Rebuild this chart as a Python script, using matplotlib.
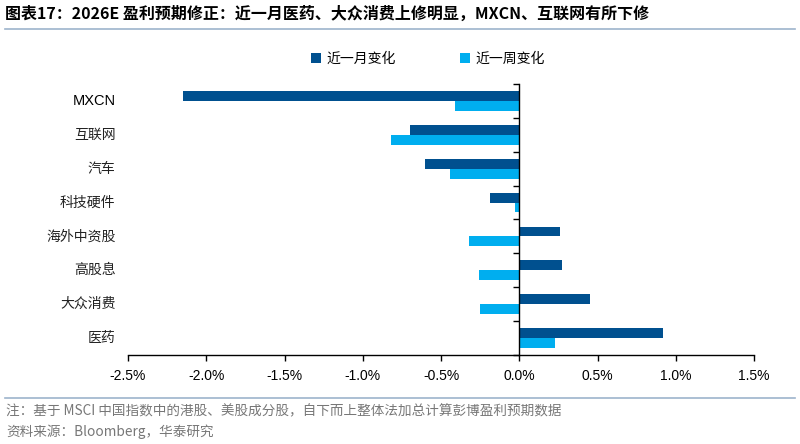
import matplotlib
matplotlib.use("Agg")
import matplotlib.pyplot as plt
import matplotlib.transforms as mtransforms
from matplotlib.patches import Patch
from matplotlib.ticker import FuncFormatter, FixedLocator
import numpy as np

plt.rcParams['font.family'] = ['Noto Sans CJK SC', 'DejaVu Sans']

categories = ["MXCN", "互联网", "汽车", "科技硬件", "海外中资股", "高股息", "大众消费", "医药"]
month_change = [-2.15, -0.70, -0.60, -0.19, 0.26, 0.27, 0.45, 0.92]
week_change = [-0.41, -0.82, -0.44, -0.03, -0.32, -0.26, -0.25, 0.23]
series_names = ["近一月变化", "近一周变化"]
x_ticks = [-2.5, -2.0, -1.5, -1.0, -0.5, 0.0, 0.5, 1.0, 1.5]

title = "图表17：2026E 盈利预期修正：近一月医药、大众消费上修明显，MXCN、互联网有所下修"
note = "注：基于 MSCI 中国指数中的港股、美股成分股，自下而上整体法加总计算彭博盈利预期数据"
source = "资料来源：Bloomberg，华泰研究"

c_month = "#00508F"
c_week = "#00AEEF"

fig = plt.figure(figsize=(8.0, 4.44), dpi=100)
ax = fig.add_axes([0.16, 0.2005, 0.7825, 0.6103])

n = len(categories)
y = np.arange(n)
h = 0.29
ax.barh(y - h / 2, month_change, height=h, color=c_month, label=series_names[0])
ax.barh(y + h / 2, week_change, height=h, color=c_week, label=series_names[1])

ax.set_xlim(-2.5, 1.5)
ax.set_ylim(n - 0.5, -0.5)

for s in ["top", "right"]:
    ax.spines[s].set_visible(False)
ax.spines["left"].set_position(("data", 0))
ax.spines["left"].set_linewidth(1.0)
ax.spines["bottom"].set_linewidth(1.0)

ax.set_yticks(y)
ax.set_yticklabels([])
ax.tick_params(axis="y", which="major", length=0)
ax.yaxis.set_minor_locator(FixedLocator(np.arange(-0.5, n, 1.0)))
ax.tick_params(axis="y", which="minor", length=4, width=1.0, direction="out")

ax.xaxis.set_major_locator(FixedLocator(x_ticks))
ax.xaxis.set_major_formatter(FuncFormatter(lambda v, p: f"{v:.1f}%"))
ax.tick_params(axis="x", length=4, width=1.0, direction="out", pad=6)
for lab in ax.get_xticklabels():
    lab.set_fontfamily(["Liberation Sans", "DejaVu Sans"])
    lab.set_fontsize(10)

trans = mtransforms.blended_transform_factory(ax.transAxes, ax.transData)
for i, c in enumerate(categories):
    if c == "MXCN":
        ax.text(-0.02, i, c, transform=trans, ha="right", va="center",
                fontsize=10.5, family=["Liberation Sans", "DejaVu Sans"])
    else:
        ax.text(-0.02, i, c, transform=trans, ha="right", va="center",
                fontsize=10, color="#222222")

handles = [Patch(facecolor=c_month), Patch(facecolor=c_week)]
fig.legend(handles, series_names, loc="center", bbox_to_anchor=(0.535, 0.867),
           ncol=2, frameon=False, fontsize=10, handlelength=0.7, handleheight=0.7,
           handletextpad=0.4, columnspacing=4.6)

fig.text(0.006, 0.968, title, ha="left", va="center", fontsize=11.5, fontweight="bold")
fig.add_artist(plt.Line2D([0.006, 0.994], [0.934, 0.934], transform=fig.transFigure,
                          color="#9DB4CC", linewidth=1.2))
fig.add_artist(plt.Line2D([0.006, 0.994], [0.104, 0.104], transform=fig.transFigure,
                          color="#9DB4CC", linewidth=1.2))
fig.text(0.008, 0.073, note, ha="left", va="center", fontsize=9.8, color="#777777")
fig.text(0.008, 0.027, source, ha="left", va="center", fontsize=9.8, color="#777777")

fig.savefig("out.png", dpi=100)
